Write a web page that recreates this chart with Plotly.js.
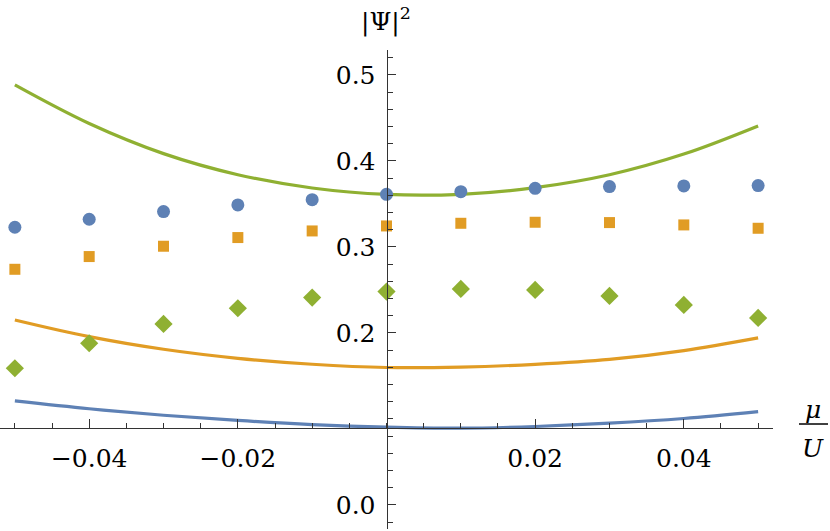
<!DOCTYPE html>
<html>
<head>
<meta charset="utf-8">
<script src="https://cdn.plot.ly/plotly-3.0.1.min.js"></script>
<style>
  html, body { margin: 0; padding: 0; background: #fff; }
  #plot { width: 830px; height: 531px; }
</style>
</head>
<body>
<div id="plot"></div>
<script>
// sample points (mu/U)
var mu = [-0.05, -0.04, -0.03, -0.02, -0.01, 0, 0.01, 0.02, 0.03, 0.04, 0.05];

// numerical points
var circles  = [0.3229, 0.3322, 0.3411, 0.3488, 0.3550, 0.3612, 0.3643, 0.3682, 0.3702, 0.3709, 0.3713];
var squares  = [0.2740, 0.2888, 0.3008, 0.3109, 0.3186, 0.3244, 0.3275, 0.3287, 0.3283, 0.3256, 0.3217];
var diamonds = [0.1589, 0.1880, 0.2105, 0.2287, 0.2411, 0.2481, 0.2512, 0.2500, 0.2430, 0.2326, 0.2174];

var curveBlue   = [0.1209, 0.1118, 0.1043, 0.0982, 0.0934, 0.0904, 0.0892, 0.0912, 0.0950, 0.1005, 0.1085];
var curveOrange = [0.2151, 0.1957, 0.1810, 0.1705, 0.1636, 0.1598, 0.1603, 0.1635, 0.1692, 0.1795, 0.1942];
var curveGreen  = [0.4884, 0.4435, 0.4085, 0.3840, 0.3685, 0.3610, 0.3612, 0.3690, 0.3840, 0.4080, 0.4407];

var xTicks = [-0.04, -0.02, 0.02, 0.04];
var xTickText = ['\u22120.04', '\u22120.02', '0.02', '0.04'];
var yTicks = [0, 0.2, 0.3, 0.4, 0.5];
var yTickText = ['0.0', '0.2', '0.3', '0.4', '0.5'];

var blue = '#5E81B5', orange = '#E19C24', green = '#8FB032';
var serif = 'DejaVu Serif, Liberation Serif, serif';

function curve(y, color) {
  return {x: mu, y: y, mode: 'lines', line: {color: color, width: 3.2, shape: 'spline', smoothing: 1}};
}
function pts(y, color, symbol, size) {
  return {x: mu, y: y, mode: 'markers', marker: {color: color, symbol: symbol, size: size, line: {width: 0}}};
}

var data = [
  curve(curveBlue, blue),
  curve(curveOrange, orange),
  curve(curveGreen, green),
  pts(circles, blue, 'circle', 13),
  pts(squares, orange, 'square', 11),
  pts(diamonds, green, 'diamond', 14)
];

var layout = {
  width: 830, height: 531,
  margin: {l: 0, r: 57, t: 50, b: 2},
  paper_bgcolor: '#fff', plot_bgcolor: '#fff',
  showlegend: false,
  font: {family: serif, size: 25, color: '#000'},
  xaxis: {
    range: [-0.052, 0.052],
    anchor: 'free', position: 0.2101,
    showgrid: false, zeroline: false,
    showline: true, linecolor: '#333', linewidth: 1,
    tickmode: 'array', tickvals: xTicks, ticktext: xTickText,
    ticks: 'inside', ticklen: 9, tickcolor: '#333', tickwidth: 1,
    minor: {tickmode: 'linear', tick0: 0, dtick: 0.005, ticks: 'inside', ticklen: 5, tickcolor: '#333', showgrid: false},
    ticklabelstandoff: 8
  },
  yaxis: {
    range: [-0.028, 0.529],
    anchor: 'free', position: 0.5,
    showgrid: false, zeroline: false,
    showline: true, linecolor: '#333', linewidth: 1,
    tickmode: 'array', tickvals: yTicks, ticktext: yTickText,
    ticks: 'inside', ticklen: 8, tickcolor: '#333', tickwidth: 1,
    minor: {tickmode: 'linear', tick0: 0, dtick: 0.02, ticks: 'inside', ticklen: 5, tickcolor: '#333', showgrid: false},
    ticklabelstandoff: 6
  },
  annotations: [
    {xref: 'paper', yref: 'paper', x: 0.4995, y: 1.0626, xanchor: 'center', yanchor: 'middle',
     text: '|\u03A8|<sup>2</sup>', showarrow: false, font: {family: serif, size: 25}},
    {xref: 'paper', yref: 'paper', x: 1.0518, y: 0.2505, xanchor: 'center', yanchor: 'middle',
     text: '<i>\u03BC</i>', showarrow: false, font: {family: serif, size: 25}},
    {xref: 'paper', yref: 'paper', x: 1.0518, y: 0.169, xanchor: 'center', yanchor: 'middle',
     text: '<i>U</i>', showarrow: false, font: {family: serif, size: 25}}
  ],
  shapes: [
    {type: 'line', xref: 'paper', yref: 'paper', x0: 1.0336, x1: 1.0712, y0: 0.2192, y1: 0.2192,
     line: {color: '#000', width: 1.5}}
  ]
};

Plotly.newPlot('plot', data, layout, {displayModeBar: false, staticPlot: true});
</script>
</body>
</html>
